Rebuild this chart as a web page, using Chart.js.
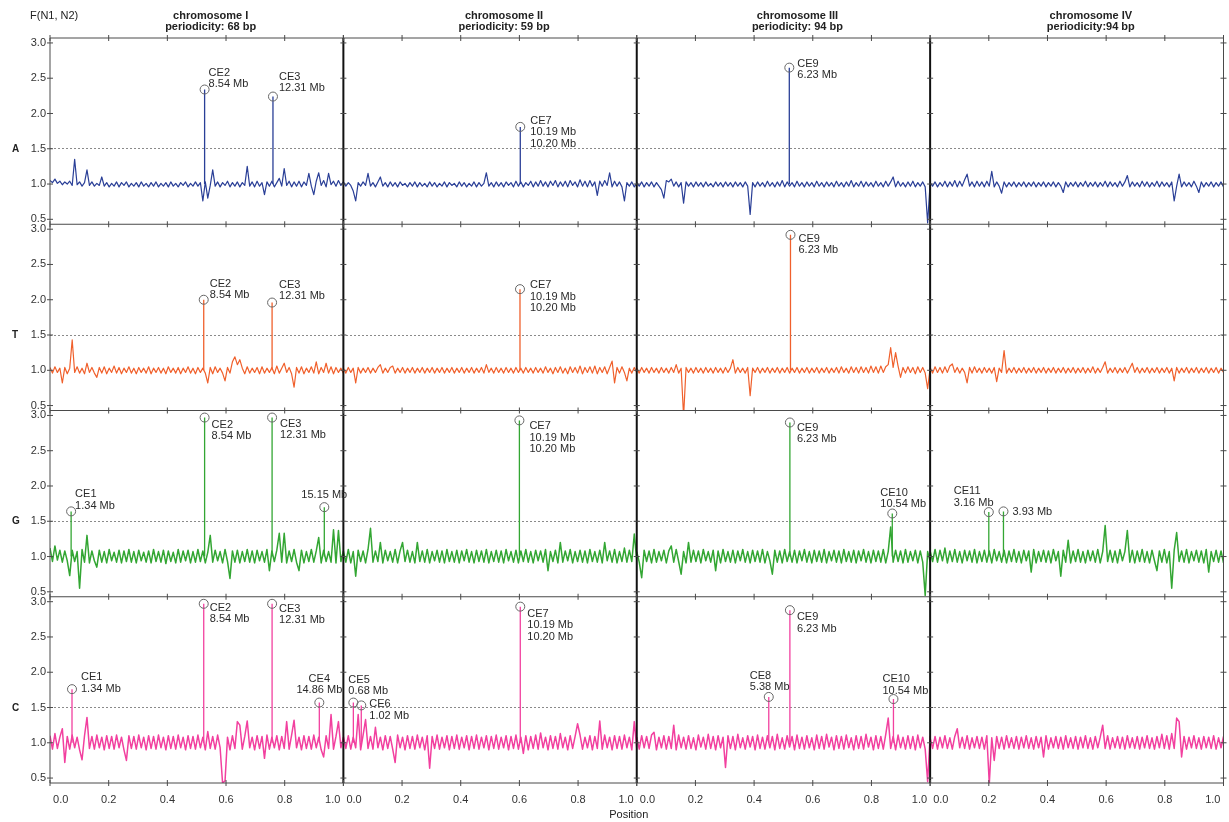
<!DOCTYPE html>
<html>
<head>
<meta charset="utf-8">
<title>F(N1, N2) profiles</title>
<script src="https://cdn.jsdelivr.net/npm/chart.js@4.4.1/dist/chart.umd.min.js"></script>
<style>
  html, body { margin: 0; padding: 0; background: #fff; }
  #wrap { position: relative; width: 1229px; height: 822px; overflow: hidden;
          font-family: "Liberation Sans", Arial, sans-serif; color: #222; }
  #wrap canvas { position: absolute; left: 0; top: 0; }
  .txt { position: absolute; white-space: nowrap; font-size: 11px; line-height: 12px; }
  .head { font-weight: bold; text-align: center; transform: translateX(-50%); line-height: 11px; }
  .row { font-weight: bold; font-size: 10px; transform: translateY(-50%); }
</style>
</head>
<body>
<div id="wrap"><canvas id="plot" width="1229" height="822"></canvas></div>
<script>
// ---- labels and ticks ----
const rowNames = ['A', 'T', 'G', 'C'];
const chromosomeTitles = ['chromosome I', 'chromosome II', 'chromosome III', 'chromosome IV'];
const periodicityTitles = ['periodicity: 68 bp', 'periodicity: 59 bp', 'periodicity: 94 bp', 'periodicity:94 bp'];
const positionTicks = [0, 0.2, 0.4, 0.6, 0.8, 1.0];
const fTicks = [0.5, 1.0, 1.5, 2.0, 2.5, 3.0];
const thresholdF = 1.5;
const peakBase = 1.0;

// ---- F(N1, N2) profiles along each chromosome (evenly spaced samples, position 0..1) ----
const fA1 = [1.05,1.02,1.07,1.01,1.04,0.99,1.03,1.00,1.04,0.98,1.35,0.99,1.03,0.97,1.02,1.20,0.98,1.03,0.97,1.01,
  0.98,1.10,0.97,1.02,0.96,1.01,0.97,1.03,0.96,1.02,0.98,1.03,0.96,1.01,0.97,1.02,0.96,1.03,0.97,1.01,
  0.96,1.02,0.97,1.03,0.96,1.01,0.97,1.02,0.96,1.03,0.97,1.01,0.96,1.02,0.98,1.03,0.96,1.01,0.97,1.03,
  0.97,1.02,0.76,1.03,0.80,0.98,1.20,0.97,1.03,0.96,1.02,0.98,1.04,0.96,1.02,0.97,1.03,0.96,1.02,0.98,
  1.25,0.97,1.03,0.96,1.04,0.97,1.02,0.85,1.03,0.97,1.04,0.96,1.02,1.08,0.97,1.22,0.98,1.04,0.96,1.03,
  0.97,1.04,0.96,1.03,0.98,1.15,0.97,0.85,1.04,1.16,0.98,1.05,0.96,1.15,0.99,1.04,0.97,1.05,0.98,1.03];
const fA2 = [1.03,0.97,1.02,0.98,0.90,0.76,1.02,0.97,1.03,0.98,1.15,0.97,1.02,0.96,1.03,1.10,0.97,1.02,0.96,1.03,
  0.97,1.02,0.96,1.03,0.98,1.01,0.96,1.02,0.97,1.03,0.96,1.02,0.97,1.01,0.96,1.03,0.97,1.02,0.96,1.01,
  0.97,1.03,0.96,1.02,0.98,1.01,0.96,1.03,0.97,1.02,0.96,1.01,0.97,1.03,0.96,1.02,0.97,1.01,1.16,0.97,
  1.02,0.96,1.03,0.97,1.02,0.96,1.03,0.98,1.02,0.96,1.04,0.97,1.03,0.96,1.02,0.98,1.04,0.96,1.03,0.97,
  1.05,0.97,1.03,0.96,1.04,0.98,1.05,0.96,1.03,0.97,1.04,0.96,1.05,0.98,1.03,0.96,1.06,0.97,1.04,0.96,
  1.05,0.97,1.03,0.84,1.04,0.97,1.05,0.98,1.16,0.96,1.04,0.97,1.03,0.96,0.76,1.02,0.97,1.03,0.96,1.01];
const fA3 = [1.02,0.97,1.03,0.96,1.02,0.97,1.03,0.96,1.02,0.97,0.92,0.80,1.05,1.03,1.07,0.97,1.03,0.96,1.02,0.73,
  1.03,0.97,1.02,0.96,1.03,0.97,1.02,0.96,1.03,0.97,1.01,0.96,1.03,0.97,1.02,0.96,1.03,0.97,1.02,0.96,
  1.03,0.97,1.02,0.96,1.03,0.97,0.57,1.02,0.96,1.03,0.97,1.02,0.96,1.04,0.97,1.02,0.96,1.03,0.97,1.05,
  0.96,1.03,0.97,1.02,0.96,1.04,0.97,1.02,0.96,1.03,0.97,1.02,0.96,1.04,0.97,1.02,0.96,1.03,0.97,1.02,
  0.96,1.04,0.97,1.02,0.96,1.03,0.97,1.05,0.96,1.02,0.97,1.04,0.96,1.03,0.97,1.02,0.96,1.04,0.97,1.02,
  0.96,1.04,0.97,1.03,1.10,0.96,1.04,0.97,1.02,0.96,1.03,0.97,1.04,0.96,1.02,0.97,1.03,0.96,0.45,1.01];
const fA4 = [1.02,0.97,1.03,0.96,1.02,0.97,1.04,0.96,1.03,0.97,1.05,0.96,1.04,0.97,1.06,1.14,0.97,1.03,0.96,1.04,
  0.97,1.03,0.96,1.04,0.97,1.18,0.96,1.03,0.97,0.87,1.03,0.96,1.02,0.97,1.03,0.96,1.02,0.97,1.03,0.96,
  1.02,0.97,1.03,0.96,1.02,0.97,1.03,0.96,1.02,0.97,1.03,0.96,1.02,0.97,0.88,1.03,0.96,1.02,0.97,1.03,
  0.96,1.02,0.97,1.04,0.96,1.02,0.97,1.03,0.96,1.02,0.97,1.04,0.96,1.03,0.97,1.02,0.96,1.04,0.97,1.03,
  1.12,0.96,1.03,0.97,1.02,0.96,1.04,0.97,1.03,0.96,1.02,0.97,1.04,0.96,1.03,0.97,1.02,0.96,1.03,0.76,
  0.97,1.14,0.96,1.03,0.97,1.02,0.96,1.04,0.97,0.88,1.03,0.96,1.02,0.97,1.03,0.96,1.02,0.97,1.03,0.96];

const fT1 = [1.04,0.96,1.05,0.97,1.03,0.82,1.04,0.95,1.03,1.43,0.97,1.05,0.96,1.03,0.95,1.10,0.97,1.04,0.96,0.90,
  1.04,0.96,1.05,0.95,1.03,0.97,1.06,0.96,1.04,0.95,1.03,0.97,1.05,0.96,1.03,0.95,1.04,0.97,1.03,0.96,
  1.05,0.95,1.03,0.97,1.04,0.96,1.03,0.95,1.05,0.97,1.03,0.96,1.04,0.95,1.03,0.97,1.05,0.96,1.03,0.95,
  1.04,0.97,1.03,0.96,0.82,1.04,0.95,1.05,0.97,1.03,0.96,0.85,1.04,0.96,1.12,1.19,1.08,1.15,1.03,0.95,
  1.05,0.96,1.03,0.97,1.04,0.95,1.05,0.96,1.03,0.97,1.04,0.95,1.06,0.96,1.03,1.10,0.97,1.04,0.95,0.76,
  1.04,0.96,1.05,0.95,1.03,0.97,1.05,0.96,1.12,0.95,1.04,0.97,1.10,0.96,1.05,0.95,1.04,0.97,1.03,0.96];
const fT2 = [1.03,0.96,1.04,0.97,1.03,0.82,1.04,0.96,1.03,0.97,1.04,0.96,1.03,0.97,1.04,1.08,0.96,1.03,0.97,1.04,
  1.06,0.96,1.03,0.97,1.04,0.96,1.03,0.97,1.04,0.96,1.03,0.97,1.04,0.96,1.03,0.97,1.04,0.96,1.03,0.97,
  1.04,0.96,1.03,0.97,1.04,0.96,1.03,0.97,1.04,0.96,1.03,0.97,1.04,0.96,1.03,0.97,1.04,0.96,1.08,0.97,
  1.03,0.96,1.04,0.97,1.03,0.96,1.04,0.97,1.03,0.96,1.04,0.97,1.03,0.96,1.04,0.97,1.03,0.96,1.04,0.97,
  1.03,0.96,1.05,0.97,1.03,0.95,1.04,0.97,1.05,0.96,1.03,0.95,1.05,0.97,1.04,0.96,1.06,0.95,1.04,0.97,
  1.05,0.96,1.06,0.95,1.04,0.97,1.05,0.95,1.04,1.13,0.82,1.04,0.96,1.05,0.97,0.85,1.03,0.96,1.04,0.97];
const fT3 = [1.03,0.96,1.04,0.97,1.03,0.96,1.04,0.97,1.03,0.96,1.04,0.97,1.03,0.96,1.04,0.97,1.08,0.96,1.03,0.35,
  1.04,0.97,1.03,0.96,1.04,0.97,1.03,0.96,1.04,0.97,1.03,0.96,1.04,0.97,1.03,0.96,1.04,0.97,1.03,1.15,
  0.96,1.04,0.97,1.03,0.96,1.04,0.64,1.03,0.97,1.04,0.96,1.03,0.97,1.04,0.96,1.03,0.97,1.04,0.96,1.03,
  0.97,1.04,0.96,1.03,0.97,1.04,0.96,1.03,0.97,1.04,0.96,1.03,0.97,1.04,0.96,1.03,0.97,1.04,0.96,1.03,
  0.97,1.04,0.96,1.05,0.97,1.03,0.96,1.05,0.97,1.04,0.96,1.05,0.97,1.04,0.96,1.06,0.97,1.05,0.96,1.06,
  0.97,1.05,1.08,1.32,1.04,1.25,1.06,0.90,1.04,0.96,1.05,0.97,1.04,0.95,1.05,0.97,1.04,0.96,0.74,1.03];
const fT4 = [1.04,0.96,1.05,0.97,1.04,0.96,1.05,0.97,1.06,1.09,0.97,1.04,0.96,1.03,0.97,0.82,1.04,0.96,1.05,0.97,
  1.03,0.96,1.04,0.97,1.03,0.96,1.04,0.84,1.03,0.97,1.28,0.96,1.03,0.97,1.04,0.96,1.03,0.97,1.04,0.96,
  1.03,0.97,1.04,0.96,1.03,0.97,1.04,0.96,1.03,0.97,1.04,0.96,1.03,0.97,1.04,0.96,1.03,0.97,1.04,0.96,
  1.03,0.97,1.04,0.96,1.03,0.97,1.05,0.96,1.03,0.97,1.04,1.12,0.96,1.03,0.97,1.04,0.96,1.03,0.97,1.04,
  0.96,1.03,1.10,0.97,1.04,0.96,1.03,0.97,1.04,0.96,1.03,0.97,1.04,0.96,1.03,0.97,1.04,0.96,1.03,0.85,
  1.04,0.96,1.03,0.97,1.04,0.96,1.03,0.97,1.04,0.96,1.03,0.97,1.04,0.96,1.03,0.97,1.04,0.96,1.03,0.97];

const fG1 = [1.12,0.93,1.15,0.95,1.09,0.92,1.08,0.94,0.73,1.09,0.93,1.07,0.55,1.10,0.92,1.30,0.91,1.08,0.94,0.85,
  1.09,0.92,1.07,0.91,1.10,0.94,1.06,0.92,1.09,0.91,1.08,0.93,1.10,0.92,1.07,0.91,1.09,0.94,1.06,0.92,
  1.08,0.91,1.10,0.93,1.07,0.92,1.09,0.90,1.08,0.93,1.06,0.91,1.10,0.92,1.08,0.94,1.09,0.91,1.07,0.92,
  1.10,0.93,1.08,0.91,1.06,1.30,0.92,1.09,0.94,1.07,0.91,1.10,0.93,0.69,1.08,0.92,1.09,0.91,1.07,0.93,
  1.10,0.92,1.08,0.91,1.09,0.94,1.07,0.92,1.10,0.80,1.08,0.93,1.09,1.33,0.92,1.33,0.91,1.08,0.93,1.10,
  0.92,0.80,1.09,0.91,1.07,0.93,1.10,0.92,1.08,1.27,0.91,1.09,0.93,1.07,0.92,1.38,0.91,1.37,0.93,1.08];
const fG2 = [1.08,0.92,1.10,0.91,1.07,0.72,1.09,0.93,1.08,0.91,1.10,1.40,0.92,1.08,0.93,1.20,0.91,1.09,0.94,1.07,
  0.92,1.10,0.91,1.08,1.20,0.93,1.09,0.92,1.07,0.91,1.20,0.93,1.08,0.92,1.10,0.91,1.07,0.94,1.09,0.92,
  1.08,0.91,1.10,0.93,1.07,0.92,1.09,0.91,1.08,0.94,1.10,0.92,1.07,0.91,1.09,0.93,1.08,0.92,1.10,0.91,
  1.07,0.93,1.09,0.92,1.08,0.91,1.10,0.94,1.07,0.92,1.09,0.91,1.08,0.93,1.10,0.92,1.07,0.91,1.09,0.94,
  1.08,0.92,1.10,0.80,1.07,0.93,1.09,0.91,1.20,0.92,1.08,0.94,1.10,0.91,1.07,0.93,1.09,0.92,1.08,0.91,
  1.10,0.93,1.07,0.92,1.09,0.91,1.20,0.94,1.08,0.92,1.10,0.91,1.07,0.93,1.12,0.92,1.09,0.93,1.32,0.95];
const fG3 = [1.07,0.92,0.70,1.09,0.93,1.08,0.91,1.10,0.92,1.07,0.94,1.09,0.91,1.08,1.15,0.92,1.10,0.93,0.75,1.07,
  0.91,1.20,0.92,1.09,0.93,1.08,0.91,1.10,0.94,1.07,0.92,1.09,0.80,1.08,0.91,1.10,0.93,1.07,0.92,1.09,
  0.91,1.08,0.94,1.10,0.92,1.07,0.91,1.09,0.93,1.08,0.92,1.10,0.91,1.07,0.94,0.75,1.09,0.92,1.08,0.91,
  1.10,0.93,1.07,0.92,1.09,0.91,1.08,0.94,1.10,0.92,1.07,0.91,1.09,0.93,1.08,0.92,1.10,0.91,1.07,0.94,
  1.09,0.92,1.08,0.91,1.10,0.93,1.07,0.92,1.09,0.91,1.08,0.94,1.10,0.92,1.07,0.91,1.09,0.93,1.08,0.92,
  1.10,0.91,1.07,1.42,0.92,1.09,0.93,1.08,0.91,1.10,0.92,1.07,0.94,1.09,0.91,1.08,0.92,0.45,1.07,0.93];
const fG4 = [1.08,0.93,1.10,0.92,1.09,0.94,1.12,0.91,1.08,0.93,1.10,0.92,1.07,0.91,1.09,0.94,1.08,0.92,1.10,0.91,
  1.07,0.93,1.09,0.92,1.08,0.91,1.10,0.94,1.07,0.92,1.09,0.91,1.08,0.93,1.10,0.92,1.07,0.91,1.09,0.94,
  1.08,0.78,1.10,0.91,1.07,0.93,1.09,0.92,1.08,0.91,1.10,0.94,1.07,0.72,1.09,0.92,1.23,0.91,1.08,0.93,
  1.10,0.92,1.07,0.91,1.09,0.94,1.08,0.92,1.10,0.91,1.07,1.44,0.93,1.09,0.92,1.08,0.91,1.10,0.94,1.07,
  1.37,0.92,1.09,0.91,1.08,0.93,1.10,0.92,1.07,0.91,1.09,0.94,0.80,1.08,0.92,1.10,0.91,1.07,0.55,1.09,
  1.34,0.93,1.08,0.92,1.10,0.91,1.07,0.94,1.09,0.92,1.08,0.91,1.10,0.78,1.07,0.93,1.09,0.92,1.08,0.91];

const fC1 = [1.10,0.91,1.13,0.92,1.08,1.20,0.72,1.09,0.91,1.11,0.93,1.08,0.90,0.76,1.10,1.36,0.92,1.09,0.91,1.11,
  0.93,1.08,0.90,1.10,0.92,1.09,0.91,1.11,0.93,1.08,0.90,0.75,1.10,0.92,1.09,0.91,1.11,0.93,1.08,0.90,
  1.10,0.92,1.09,0.91,1.11,0.93,1.08,0.90,1.10,0.92,1.09,0.91,1.11,0.93,1.08,0.90,1.10,0.92,1.09,0.91,
  1.11,0.93,1.08,0.90,1.16,0.92,1.09,0.91,1.11,0.93,0.43,0.46,1.08,0.90,1.10,0.92,1.30,1.25,0.91,1.09,
  1.31,0.93,1.08,0.90,1.10,0.92,1.09,0.78,1.11,0.91,1.08,0.93,1.10,0.90,1.09,0.92,1.30,0.91,1.11,1.32,
  0.93,1.08,0.90,1.10,0.92,1.09,0.91,1.11,0.93,1.08,0.90,0.80,1.10,0.92,1.40,0.91,1.09,1.30,0.93,1.08];
const fC2 = [1.09,0.92,1.10,0.91,1.08,0.93,1.40,0.90,1.11,1.33,0.92,1.09,0.91,1.22,0.93,1.08,0.90,1.10,0.92,1.09,
  0.91,0.72,1.11,0.93,1.08,0.90,1.10,0.92,1.09,0.91,1.11,0.93,1.08,0.90,1.10,0.64,1.09,0.92,1.11,0.91,
  1.08,0.93,1.10,0.90,1.09,0.92,1.11,0.91,1.08,0.93,1.10,0.90,1.09,0.92,1.11,0.91,1.08,0.93,1.10,0.90,
  1.09,0.92,1.11,0.91,1.08,0.93,1.10,0.90,1.09,0.92,1.11,0.91,1.08,0.85,1.10,0.90,1.09,0.92,1.11,0.91,
  1.14,0.93,1.08,0.90,1.10,0.92,1.09,0.91,1.13,0.93,1.08,0.90,1.10,0.92,1.09,1.27,1.11,0.91,1.08,0.93,
  1.10,0.90,1.09,0.92,1.31,0.91,1.11,0.93,1.08,0.90,1.10,0.92,1.09,0.91,1.11,0.93,1.08,0.90,1.30,0.92];
const fC3 = [1.08,0.91,1.10,0.93,1.09,0.92,1.11,1.15,0.90,1.08,0.93,1.10,0.91,1.09,0.92,1.25,0.90,1.11,0.93,1.08,
  0.91,1.10,0.92,1.07,0.90,1.11,0.94,1.08,0.91,1.12,0.92,1.09,0.90,1.10,0.93,1.08,0.65,1.10,0.92,1.09,
  0.90,1.12,0.93,1.07,0.91,1.10,0.94,1.09,0.90,1.11,0.92,1.08,0.91,1.10,0.93,1.09,0.90,1.12,0.92,1.07,
  0.91,1.10,0.94,1.09,0.90,1.11,0.92,1.08,0.91,1.10,0.93,1.07,0.90,1.11,0.92,1.09,0.91,1.12,0.94,1.08,
  0.90,1.10,0.92,1.09,0.91,1.11,0.93,1.07,0.90,1.10,0.92,1.09,0.91,1.12,0.94,1.08,0.90,1.10,0.92,1.09,
  0.91,1.12,1.35,0.92,1.09,0.90,1.11,0.93,1.08,0.91,1.10,0.92,1.09,0.90,1.11,0.93,1.08,0.91,0.45,1.10];
const fC4 = [1.07,0.92,1.09,0.91,1.08,0.93,1.10,0.92,1.07,0.91,1.09,1.20,0.93,1.08,0.92,1.10,0.91,1.07,0.93,1.09,
  0.92,1.08,0.91,1.10,0.42,1.07,0.75,1.09,0.92,1.08,0.91,1.10,0.93,1.07,0.92,1.09,0.91,1.08,0.93,1.10,
  0.92,1.07,0.91,1.09,0.93,1.08,0.80,1.10,0.91,1.07,0.93,1.09,0.92,1.08,0.91,1.10,0.93,1.07,0.92,1.09,
  0.91,1.08,0.93,1.10,0.92,1.07,0.91,1.09,0.93,1.08,1.25,0.92,1.10,0.91,1.07,0.93,1.09,0.92,1.08,0.91,
  1.10,0.93,1.07,0.92,1.09,0.91,1.08,0.93,1.10,0.92,1.07,0.91,1.09,0.93,1.12,0.92,1.10,0.91,1.13,0.92,
  1.35,1.30,0.80,1.09,0.91,1.08,0.93,1.10,0.92,1.07,0.91,1.09,0.93,1.08,0.92,1.10,0.91,1.07,0.93,1.09];

// ---- labelled peaks: [chromosome index, position, F value, label lines] ----
const peaksA = [
  [0, 0.527, 2.34, ['CE2', '8.54 Mb']],
  [0, 0.760, 2.24, ['CE3', '12.31 Mb']],
  [1, 0.603, 1.81, ['CE7', '10.19 Mb', '10.20 Mb']],
  [2, 0.520, 2.65, ['CE9', '6.23 Mb']]
];
const peaksT = [
  [0, 0.524, 2.00, ['CE2', '8.54 Mb']],
  [0, 0.757, 1.96, ['CE3', '12.31 Mb']],
  [1, 0.602, 2.15, ['CE7', '10.19 Mb', '10.20 Mb']],
  [2, 0.524, 2.92, ['CE9', '6.23 Mb']]
];
const peaksG = [
  [0, 0.072, 1.64, ['CE1', '1.34 Mb']],
  [0, 0.527, 2.97, ['CE2', '8.54 Mb']],
  [0, 0.757, 2.97, ['CE3', '12.31 Mb']],
  [0, 0.935, 1.70, ['15.15 Mb']],
  [1, 0.600, 2.93, ['CE7', '10.19 Mb', '10.20 Mb']],
  [2, 0.522, 2.90, ['CE9', '6.23 Mb']],
  [2, 0.871, 1.61, ['CE10', '10.54 Mb']],
  [3, 0.200, 1.63, ['CE11', '3.16 Mb']],
  [3, 0.250, 1.64, ['3.93 Mb']]
];
const peaksC = [
  [0, 0.075, 1.76, ['CE1', '1.34 Mb']],
  [0, 0.524, 2.97, ['CE2', '8.54 Mb']],
  [0, 0.757, 2.97, ['CE3', '12.31 Mb']],
  [0, 0.918, 1.57, ['CE4', '14.86 Mb']],
  [1, 0.034, 1.57, ['CE5', '0.68 Mb']],
  [1, 0.061, 1.53, ['CE6', '1.02 Mb']],
  [1, 0.603, 2.93, ['CE7', '10.19 Mb', '10.20 Mb']],
  [2, 0.450, 1.65, ['CE8', '5.38 Mb']],
  [2, 0.522, 2.88, ['CE9', '6.23 Mb']],
  [2, 0.875, 1.62, ['CE10', '10.54 Mb']]
];

// label placement next to each peak marker: [dx, dy of first line, alignment]
const labelOffsetsA = [[4, -17], [6, -20], [10, -6], [8, -4]];
const labelOffsetsT = [[6, -16], [7, -18], [10, -4], [8, 4]];
const labelOffsetsG = [[4, -17], [7, 7], [8, 6], [0, -12, 'center'], [10, 6], [7, 5], [-12, -21], [-35, -21], [9, 1]];
const labelOffsetsC = [[9, -12], [6, 4], [7, 5], [0, -24, 'center'], [-5, -23], [8, -1], [7, 7], [-19, -21], [7, 7], [-11, -20]];

// ---- styling ----
const FONT = '"Liberation Sans", Arial, sans-serif';
const seriesColors = ['#2a3f97', '#f0602c', '#33a633', '#f2409f'];
const seriesLineWidths = [1.2, 1.2, 1.5, 1.5];
const colIds = ['xI', 'xII', 'xIII', 'xIV'];
const rowIds = ['yA', 'yT', 'yG', 'yC'];

const profiles = [[fA1, fA2, fA3, fA4], [fT1, fT2, fT3, fT4], [fG1, fG2, fG3, fG4], [fC1, fC2, fC3, fC4]];
const peaksByRow = [peaksA, peaksT, peaksG, peaksC];
const offsetsByRow = [labelOffsetsA, labelOffsetsT, labelOffsetsG, labelOffsetsC];

const datasets = [];
profiles.forEach((row, r) => row.forEach((vals, c) => {
  datasets.push({
    data: vals.map((v, i) => ({ x: i / (vals.length - 1), y: v })),
    xAxisID: colIds[c], yAxisID: rowIds[r],
    borderColor: seriesColors[r], borderWidth: seriesLineWidths[r], borderJoinStyle: 'round',
    pointRadius: 0, tension: 0, fill: false
  });
}));
peaksByRow.forEach((peaks, r) => peaks.forEach(p => {
  datasets.push({
    data: [{ x: p[1], y: peakBase }, { x: p[1], y: p[2] }],
    xAxisID: colIds[p[0]], yAxisID: rowIds[r],
    borderColor: seriesColors[r], borderWidth: 1.3, tension: 0, fill: false,
    pointRadius: [0, 4.5], pointStyle: 'circle', pointBorderWidth: 1,
    pointBorderColor: '#666', pointBackgroundColor: 'rgba(0,0,0,0)'
  });
}));

// boundary labels get a little breathing room next to the chromosome separators
const positionLabel = v => {
  const s = Number(v).toFixed(1);
  if (v === 0) return ' ' + s;
  if (v === 1) return s + ' ';
  return s;
};

const scales = {};
colIds.forEach(id => {
  scales[id] = {
    type: 'linear', position: 'bottom', stack: 'chromosomes', stackWeight: 1,
    min: 0, max: 1,
    afterBuildTicks: s => { s.ticks = positionTicks.map(v => ({ value: v })); },
    afterFit: s => { s.height = 26; s.paddingLeft = 0; s.paddingRight = 0; },
    grid: { display: false, drawTicks: false },
    border: { display: false },
    ticks: { align: 'inner', padding: 10, autoSkip: false, maxRotation: 0, color: '#333',
             font: { size: 11, family: FONT }, callback: positionLabel }
  };
});
rowIds.forEach((id, r) => {
  scales[id] = {
    type: 'linear', position: 'left', stack: 'bases', stackWeight: 1, weight: 4 - r,
    min: 0.43, max: 3.07,
    afterBuildTicks: s => { s.ticks = fTicks.map(v => ({ value: v })); },
    afterFit: s => { s.width = 50; s.paddingTop = 0; s.paddingBottom = 0; },
    grid: { drawTicks: false, lineWidth: 1,
            color: ctx => (ctx.tick && ctx.tick.value === thresholdF) ? '#8a8a8a' : 'rgba(0,0,0,0)' },
    border: { display: false, dash: [2, 2] },
    ticks: { padding: 4, autoSkip: false, color: '#333',
             font: { size: 11, family: FONT }, callback: v => Number(v).toFixed(1) }
  };
});

// panel frames with small tick marks on every border
const panelFrame = {
  id: 'panelFrame',
  afterDatasetsDraw(chart) {
    const ctx = chart.ctx;
    const { left: L, right: R, top: T, bottom: B } = chart.chartArea;
    const xs = colIds.map(id => chart.scales[id]);
    const ys = rowIds.map(id => chart.scales[id]);
    const seg = (x1, y1, x2, y2) => { ctx.beginPath(); ctx.moveTo(x1, y1); ctx.lineTo(x2, y2); ctx.stroke(); };
    ctx.save();
    const hLines = ys.map(s => s.top).concat([B]);
    ctx.strokeStyle = '#4a4a4a'; ctx.lineWidth = 1;
    hLines.forEach(y => seg(L, y, R, y));
    seg(L, T, L, B); seg(R, T, R, B);
    ctx.strokeStyle = '#111'; ctx.lineWidth = 2;
    xs.slice(1).forEach(s => seg(s.left, T, s.left, B));
    ctx.strokeStyle = '#4a4a4a'; ctx.lineWidth = 1;
    hLines.forEach(y => xs.forEach(s => s.ticks.forEach(t => {
      const px = s.getPixelForValue(t.value);
      seg(px, y - 3, px, y + 3);
    })));
    const vLines = [L].concat(xs.slice(1).map(s => s.left)).concat([R]);
    vLines.forEach(x => ys.forEach(s => s.ticks.forEach(t => {
      const py = s.getPixelForValue(t.value);
      seg(x - 3, py, x + 3, py);
    })));
    ctx.restore();
  }
};

// peak names and positions beside the circle markers
const peakLabels = {
  id: 'peakLabels',
  afterDatasetsDraw(chart) {
    const ctx = chart.ctx;
    ctx.save();
    ctx.fillStyle = '#2a2a2a';
    ctx.font = '11px ' + FONT;
    ctx.textBaseline = 'middle';
    peaksByRow.forEach((peaks, r) => {
      const ys = chart.scales[rowIds[r]];
      peaks.forEach((p, k) => {
        const xs = chart.scales[colIds[p[0]]];
        const cx = xs.getPixelForValue(p[1]);
        const cy = ys.getPixelForValue(p[2]);
        const off = offsetsByRow[r][k];
        ctx.textAlign = off[2] || 'left';
        p[3].forEach((line, j) => ctx.fillText(line, cx + off[0], cy + off[1] + j * 11.5));
      });
    });
    ctx.restore();
  }
};

const chart = new Chart(document.getElementById('plot'), {
  type: 'line',
  data: { datasets },
  options: {
    responsive: false, animation: false, devicePixelRatio: 1, events: [],
    layout: { padding: { left: 0, right: 3, top: 38, bottom: 13 } },
    plugins: { legend: { display: false }, tooltip: { enabled: false }, title: { display: false } },
    scales
  },
  plugins: [panelFrame, peakLabels]
});

// headings, row letters and axis captions
const wrap = document.getElementById('wrap');
function addText(text, cls, x, y) {
  const d = document.createElement('div');
  d.className = 'txt ' + cls;
  d.textContent = text;
  d.style.left = x + 'px';
  d.style.top = y + 'px';
  wrap.appendChild(d);
  return d;
}
colIds.forEach((id, c) => {
  const s = chart.scales[id];
  const cx = (s.left + s.right) / 2 + 14;
  addText(chromosomeTitles[c], 'head', cx, 10);
  addText(periodicityTitles[c], 'head', cx, 21);
});
rowIds.forEach((id, r) => {
  const s = chart.scales[id];
  addText(rowNames[r], 'row', 12, s.getPixelForValue(thresholdF));
});
addText('F(N1, N2)', '', 30, 9);
const pos = addText('Position', 'head', (chart.chartArea.left + chart.chartArea.right) / 2 - 8, 809);
pos.style.fontWeight = 'normal';
</script>
</body>
</html>
